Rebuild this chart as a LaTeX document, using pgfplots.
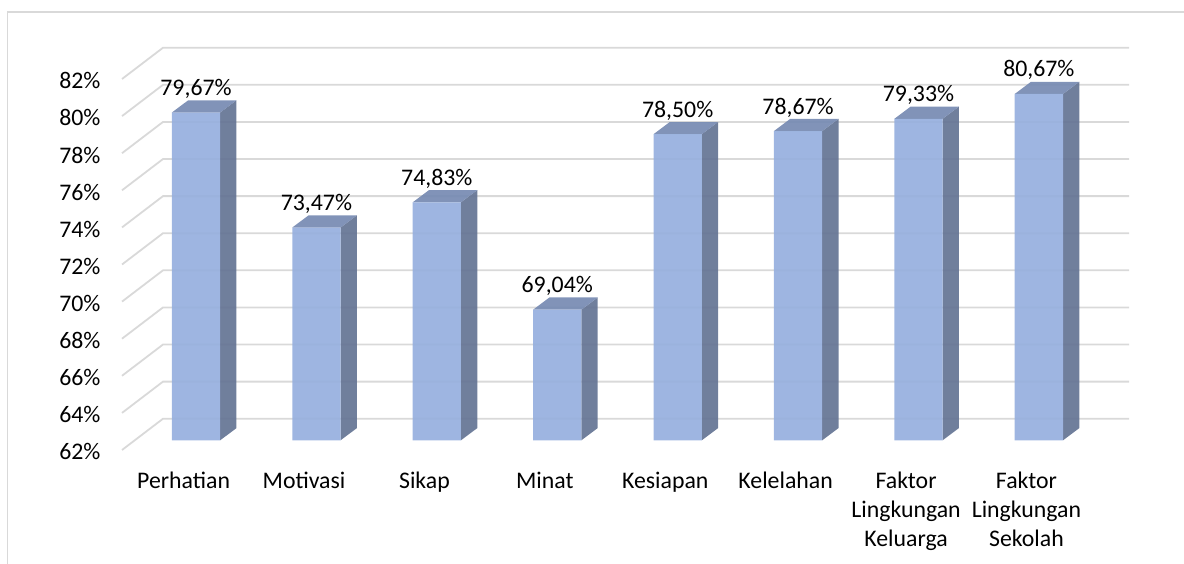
\documentclass[border=0pt]{standalone}
\usepackage{fontspec}
\setmainfont{Carlito}
\usepackage{pgfplots}
\usepackage{pgfplotstable}
\pgfplotsset{compat=1.18}

\definecolor{gridc}{RGB}{217,217,217}
\definecolor{framec}{RGB}{217,217,217}
\definecolor{frontc}{RGB}{150,175,222}
\definecolor{sidec}{RGB}{100,116,148}
\definecolor{topc}{RGB}{118,138,178}
\newcommand\lblfont{\fontsize{23.8}{29}\selectfont}

\pgfplotstableread{
i v
0 79.67
1 73.47
2 74.83
3 69.04
4 78.50
5 78.67
6 79.33
7 80.67
}\bardata

\begin{document}
\begin{tikzpicture}[x=1pt,y=1pt]
\useasboundingbox (0,0) rectangle (1184,564);
% chart frame: left and top edge only
\draw[framec,line width=1.5pt] (7.5,0) -- (7.5,552) -- (1184,552);
\begin{axis}[
    at={(0,123.7pt)}, anchor=south west,
    scale only axis, width=1184pt, height=440.3pt,
    xmin=-1.628, xmax=8.206, ymin=62, ymax=85.736,
    clip=false,
    axis line style={draw=none},
    major tick style={draw=none},
    /pgf/number format/fixed,
    /pgf/number format/fixed zerofill,
    /pgf/number format/precision=2,
    /pgf/number format/use comma,
    /pgf/number format/assume math mode=true,
    xtick={0,...,7},
    xticklabels={Perhatian,Motivasi,Sikap,Minat,Kesiapan,Kelelahan,
      {Faktor\\Lingkungan\\Keluarga},{Faktor\\Lingkungan\\Sekolah}},
    x tick label style={font=\lblfont, align=center, anchor=north, inner sep=0pt, xshift=-12.4pt, yshift=-31.5pt},
    ytick={62,64,...,82},
    yticklabels={62\%,64\%,66\%,68\%,70\%,72\%,74\%,76\%,78\%,80\%,82\%},
    y tick label style={font=\lblfont, anchor=east, inner sep=0pt, xshift=100.7pt, yshift=-11.5pt},
]
% gridlines of the floor-to-wall frame
\pgfplotsinvokeforeach{62,64,...,82}{
  \pgfmathsetmacro\ya{#1-0.523}
  \pgfmathsetmacro\yb{#1+1.164}
  \edef\temp{\noexpand\addplot[gridc,line width=1.8pt,no marks]
    coordinates {(-0.6146,\ya) (-0.274,\yb) (7.749,\yb)};}
  \temp
}
% side and top faces of the bars
\pgfplotsinvokeforeach{0,...,7}{
  \pgfplotstablegetelem{#1}{v}\of\bardata
  \let\val\pgfplotsretval
  \pgfmathsetmacro\xl{#1-0.2006}
  \pgfmathsetmacro\xr{#1+0.2006}
  \pgfmathsetmacro\xlb{\xl+0.1354}
  \pgfmathsetmacro\xrb{\xr+0.1354}
  \pgfmathsetmacro\vb{\val+0.658}
  \edef\temp{\noexpand\addplot[fill=sidec,draw=none,fill opacity=0.92,no marks]
    coordinates {(\xr,62) (\xrb,62.658) (\xrb,\vb) (\xr,\val)} -- cycle;
    \noexpand\addplot[fill=topc,draw=none,fill opacity=0.92,no marks]
    coordinates {(\xl,\val) (\xlb,\vb) (\xrb,\vb) (\xr,\val)} -- cycle;}
  \temp
}
% front faces with the value labels
\addplot[ybar, bar width=48.3pt, fill=frontc, draw=none, fill opacity=0.92,
    nodes near coords={\pgfmathprintnumber{\pgfplotspointmeta}\%},
    every node near coord/.append style={font=\lblfont, anchor=base, inner sep=0pt, yshift=17pt, text opacity=1, fill opacity=1, text=black},
  ] table[x=i,y=v] {\bardata};
\end{axis}
\end{tikzpicture}
\end{document}
